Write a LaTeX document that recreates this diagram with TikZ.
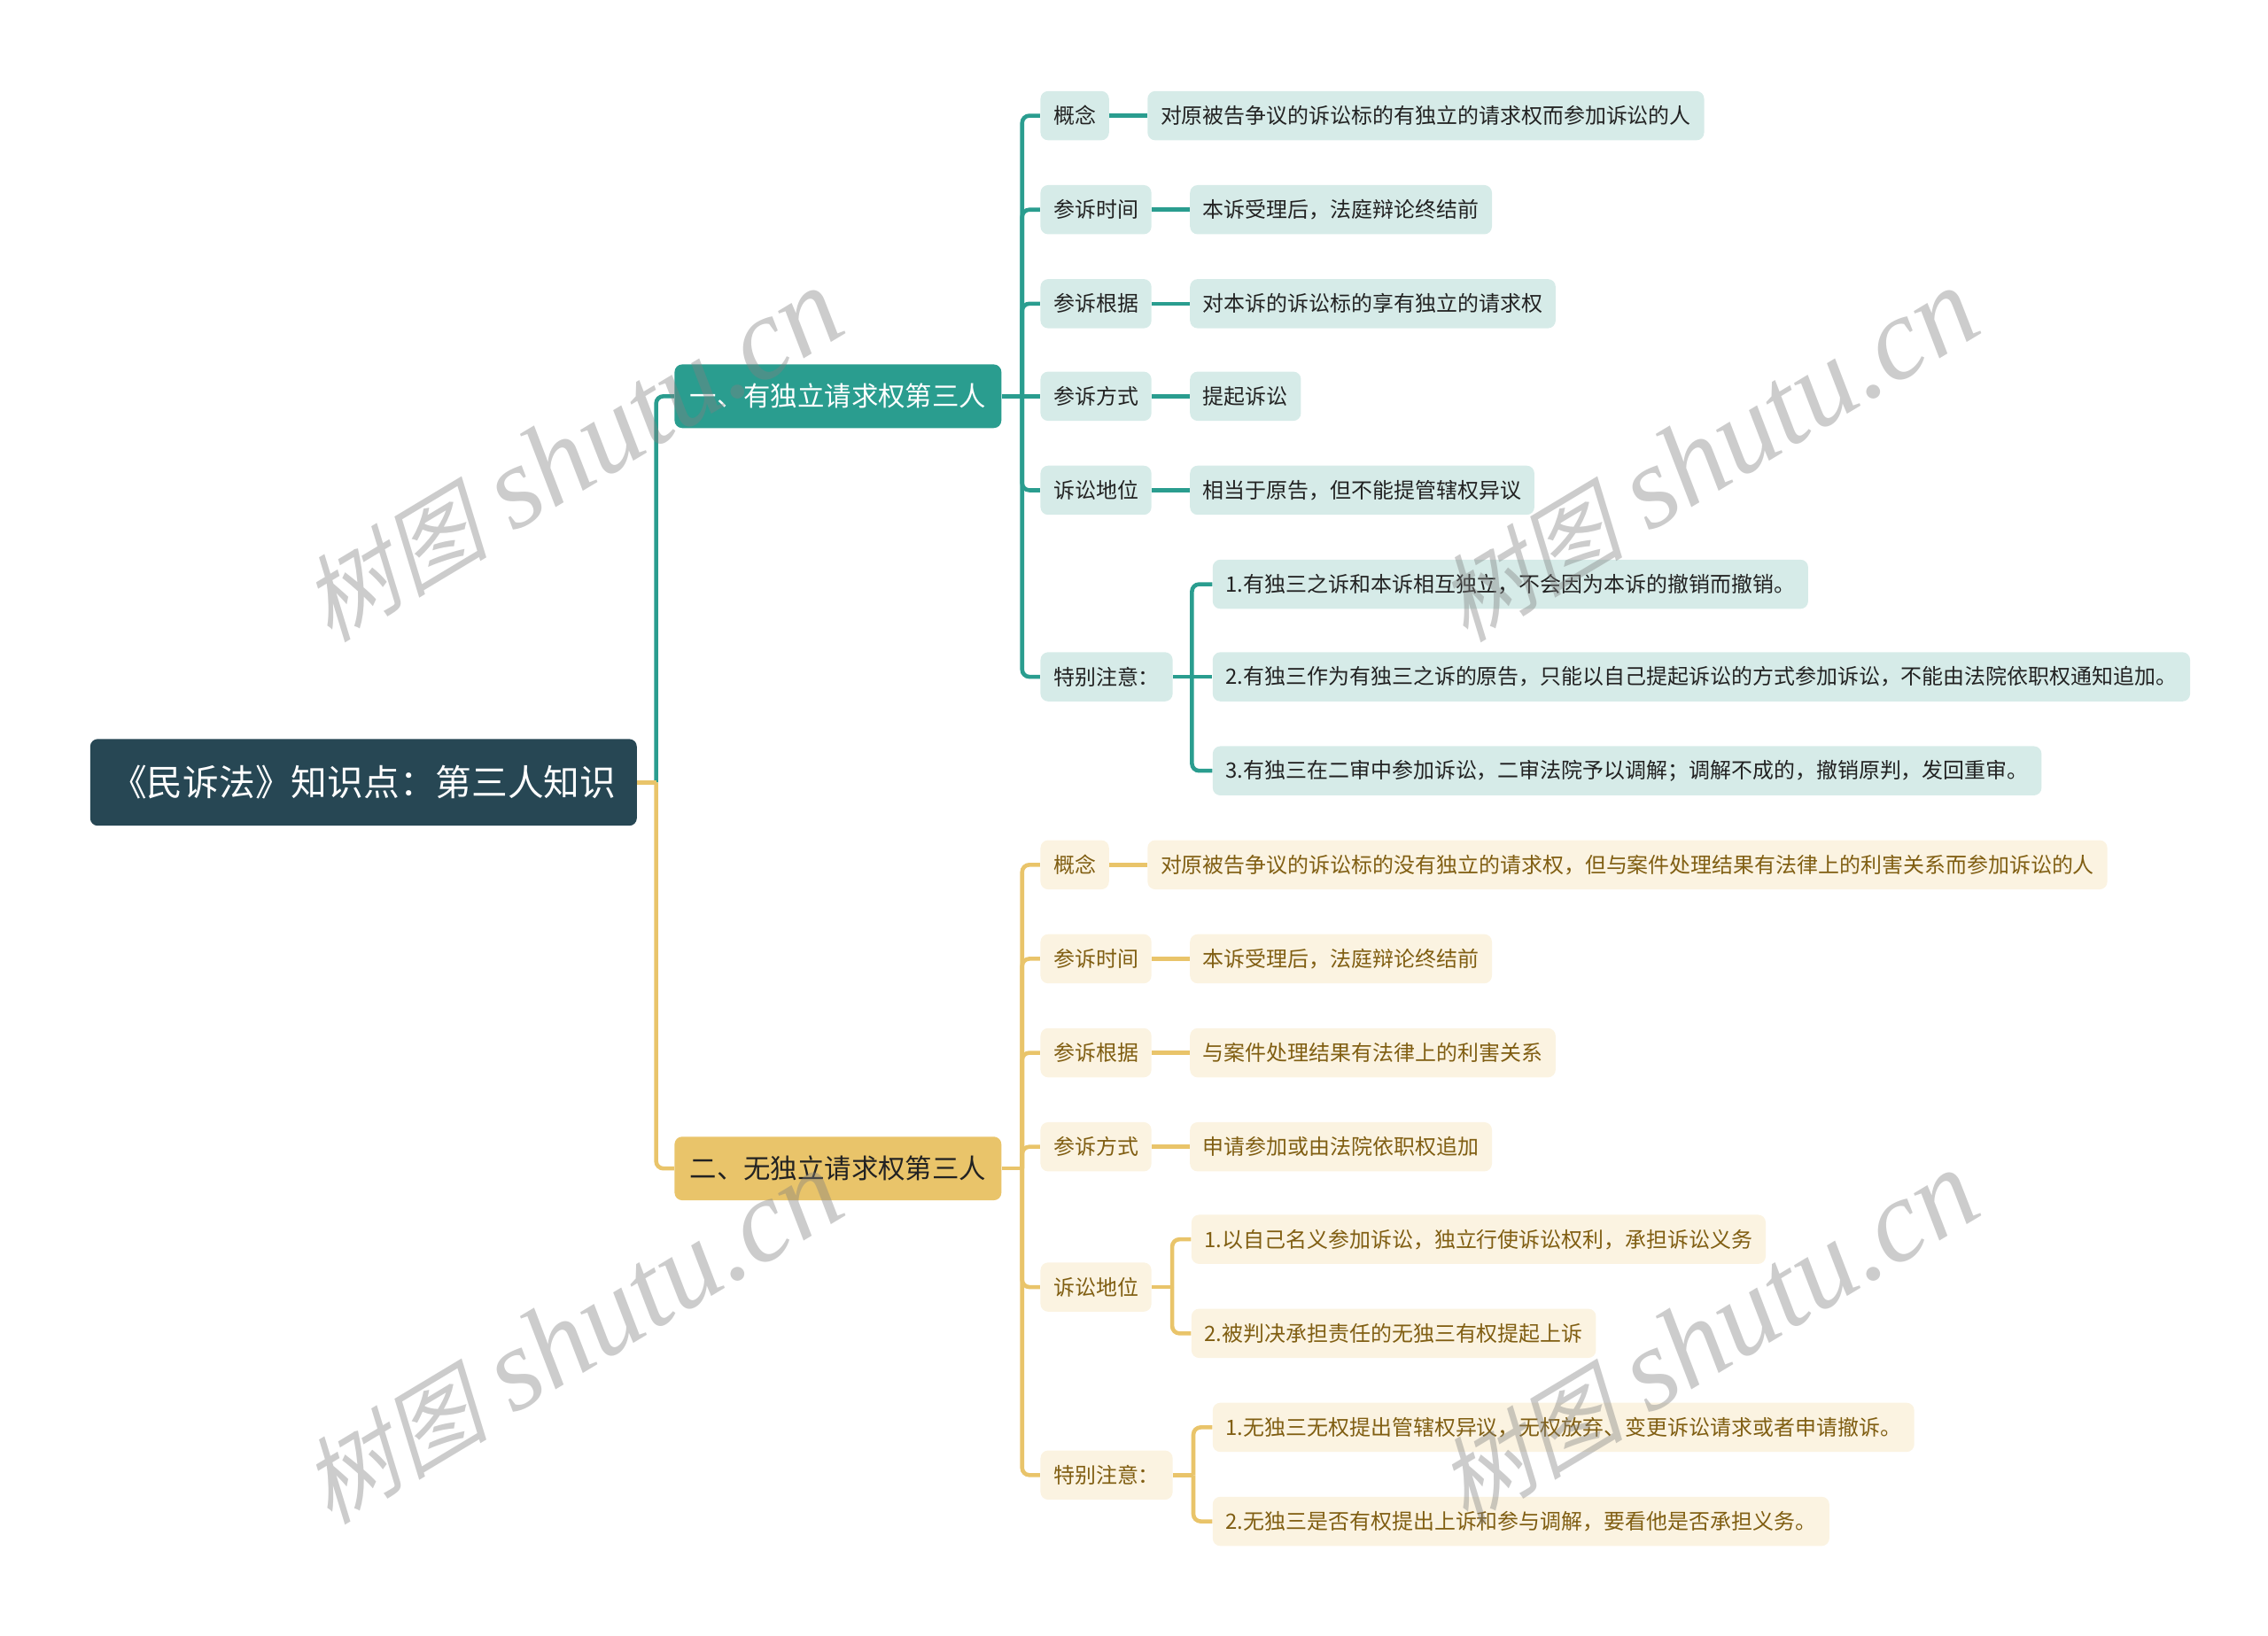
\documentclass[tikz,border=0pt]{standalone}
\usepackage{fontspec}
\setmainfont{Noto Sans CJK SC}
\newfontfamily\wmlatin{Liberation Serif}
\newfontfamily\wmcjk{Noto Sans CJK SC}[FakeSlant=0.25]
\usetikzlibrary{positioning, calc}
\definecolor{rootdark}{RGB}{39,71,84}
\definecolor{myteal}{RGB}{42,157,143}
\definecolor{hdrteal}{RGB}{214,235,232}
\definecolor{myyellow}{RGB}{233,196,106}
\definecolor{hdryellow}{RGB}{251,243,225}
\definecolor{mybrown}{RGB}{128,94,18}
\definecolor{mytext}{RGB}{34,34,34}
\tikzset{
  rootbox/.style={rectangle, fill=rootdark, text=white, anchor=west,
    font=\fontsize{14.2}{17}\selectfont, rounded corners=3pt,
    minimum width=7.56cm, minimum height=1.2cm},
  tealhead/.style={rectangle, fill=myteal, text=white, anchor=west,
    font=\fontsize{10.6}{13}\selectfont, rounded corners=3pt,
    minimum width=4.52cm, minimum height=0.88cm},
  yellowhead/.style={rectangle, fill=myyellow, text=mytext, anchor=west,
    font=\fontsize{10.6}{13}\selectfont, rounded corners=3pt,
    minimum width=4.52cm, minimum height=0.88cm},
  tealitem/.style={rectangle, fill=hdrteal, text=mytext,
    font=\fontsize{8.35}{10}\selectfont, rounded corners=3pt,
    inner xsep=0.18cm, minimum height=0.68cm},
  yellowitem/.style={rectangle, fill=hdryellow, text=mybrown,
    font=\fontsize{8.35}{10}\selectfont, rounded corners=3pt,
    inner xsep=0.18cm, minimum height=0.68cm},
  tealline/.style={myteal, line width=1.6pt, rounded corners=0.1cm},
  yellowline/.style={myyellow, line width=1.6pt, rounded corners=0.1cm},
  watermark/.style={text=gray, text opacity=0.4, rotate=31,
    font=\fontsize{46}{52}\selectfont}
}
\newcommand{\wmtext}{{\wmcjk\fontsize{37}{44}\selectfont 树图} {\wmlatin\itshape shutu.cn}}
\begin{document}
\begin{tikzpicture}[x=0.02cm, y=-0.02cm]
  \useasboundingbox (0,0) rectangle (1568,1131);
  \node[rootbox] (root) at (62,541) {《民诉法》知识点：第三人知识};
  \node[tealhead] (br1) at (466,274) {一、有独立请求权第三人};
  \node[yellowhead] (br2) at (466,808) {二、无独立请求权第三人};
  \coordinate (j0) at ($(root.east)+(13,0)$);
  \draw[tealline] (j0) |- (br1.west);
  \draw[yellowline] (j0) |- (br2.west);
  \draw[yellowline] (root.east) -- (j0);

  \node[tealitem, anchor=west] (a1) at (719,80) {概念};
  \node[tealitem, anchor=west] (a2) at (719,145) {参诉时间};
  \node[tealitem, anchor=west] (a3) at (719,210) {参诉根据};
  \node[tealitem, anchor=west] (a4) at (719,274) {参诉方式};
  \node[tealitem, anchor=west] (a5) at (719,339) {诉讼地位};
  \node[tealitem, anchor=west] (a6) at (719,468) {特别注意：};
  \node[tealitem, right=0.52cm of a1] (ta1) {对原被告争议的诉讼标的有独立的请求权而参加诉讼的人};
  \node[tealitem, right=0.52cm of a2] (ta2) {本诉受理后，法庭辩论终结前};
  \node[tealitem, right=0.52cm of a3] (ta3) {对本诉的诉讼标的享有独立的请求权};
  \node[tealitem, right=0.52cm of a4] (ta4) {提起诉讼};
  \node[tealitem, right=0.52cm of a5] (ta5) {相当于原告，但不能提管辖权异议};
  \node[tealitem, anchor=west] (tn1) at ($(a6.east)+(27,-64)$) {1.有独三之诉和本诉相互独立，不会因为本诉的撤销而撤销。};
  \node[tealitem, anchor=west] (tn2) at ($(a6.east)+(27,0)$) {2.有独三作为有独三之诉的原告，只能以自己提起诉讼的方式参加诉讼，不能由法院依职权通知追加。};
  \node[tealitem, anchor=west] (tn3) at ($(a6.east)+(27,65)$) {3.有独三在二审中参加诉讼，二审法院予以调解；调解不成的，撤销原判，发回重审。};
  \coordinate (j1) at ($(br1.east)+(14,0)$);
  \draw[tealline] (br1.east) -- (j1);
  \draw[tealline] (j1) |- (a1.west);
  \draw[tealline] (j1) |- (a2.west);
  \draw[tealline] (j1) |- (a3.west);
  \draw[tealline] (j1) -- (a4.west);
  \draw[tealline] (j1) |- (a5.west);
  \draw[tealline] (j1) |- (a6.west);
  \draw[tealline] (a1) -- (ta1);
  \draw[tealline] (a2) -- (ta2);
  \draw[tealline] (a3) -- (ta3);
  \draw[tealline] (a4) -- (ta4);
  \draw[tealline] (a5) -- (ta5);
  \coordinate (j2) at ($(a6.east)+(13,0)$);
  \draw[tealline] (a6.east) -- (j2);
  \draw[tealline] (j2) |- (tn1.west);
  \draw[tealline] (j2) -- (tn2.west);
  \draw[tealline] (j2) |- (tn3.west);

  \node[yellowitem, anchor=west] (b1) at (719,598) {概念};
  \node[yellowitem, anchor=west] (b2) at (719,663) {参诉时间};
  \node[yellowitem, anchor=west] (b3) at (719,728) {参诉根据};
  \node[yellowitem, anchor=west] (b4) at (719,793) {参诉方式};
  \node[yellowitem, anchor=west] (b5) at (719,890) {诉讼地位};
  \node[yellowitem, anchor=west] (b6) at (719,1020) {特别注意：};
  \node[yellowitem, right=0.52cm of b1] (yb1) {对原被告争议的诉讼标的没有独立的请求权，但与案件处理结果有法律上的利害关系而参加诉讼的人};
  \node[yellowitem, right=0.52cm of b2] (yb2) {本诉受理后，法庭辩论终结前};
  \node[yellowitem, right=0.52cm of b3] (yb3) {与案件处理结果有法律上的利害关系};
  \node[yellowitem, right=0.52cm of b4] (yb4) {申请参加或由法院依职权追加};
  \node[yellowitem, anchor=west] (yn1) at ($(b5.east)+(27,-33)$) {1.以自己名义参加诉讼，独立行使诉讼权利，承担诉讼义务};
  \node[yellowitem, anchor=west] (yn2) at ($(b5.east)+(27,32)$) {2.被判决承担责任的无独三有权提起上诉};
  \node[yellowitem, anchor=west] (yn3) at ($(b6.east)+(27,-33)$) {1.无独三无权提出管辖权异议，无权放弃、变更诉讼请求或者申请撤诉。};
  \node[yellowitem, anchor=west] (yn4) at ($(b6.east)+(27,32)$) {2.无独三是否有权提出上诉和参与调解，要看他是否承担义务。};
  \coordinate (k1) at ($(br2.east)+(14,0)$);
  \draw[yellowline] (br2.east) -- (k1);
  \draw[yellowline] (k1) |- (b1.west);
  \draw[yellowline] (k1) |- (b2.west);
  \draw[yellowline] (k1) |- (b3.west);
  \draw[yellowline] (k1) |- (b4.west);
  \draw[yellowline] (k1) |- (b5.west);
  \draw[yellowline] (k1) |- (b6.west);
  \draw[yellowline] (b1) -- (yb1);
  \draw[yellowline] (b2) -- (yb2);
  \draw[yellowline] (b3) -- (yb3);
  \draw[yellowline] (b4) -- (yb4);
  \coordinate (k2) at ($(b5.east)+(14,0)$);
  \draw[yellowline] (b5.east) -- (k2);
  \draw[yellowline] (k2) |- (yn1.west);
  \draw[yellowline] (k2) |- (yn2.west);
  \coordinate (k3) at ($(b6.east)+(14,0)$);
  \draw[yellowline] (b6.east) -- (k3);
  \draw[yellowline] (k3) |- (yn3.west);
  \draw[yellowline] (k3) |- (yn4.west);

  \node[watermark] (wm1) at (395,315) {\wmtext};
  \node[watermark] (wm2) at (1180,315) {\wmtext};
  \node[watermark] (wm3) at (395,925) {\wmtext};
  \node[watermark] (wm4) at (1180,925) {\wmtext};
\end{tikzpicture}
\end{document}
